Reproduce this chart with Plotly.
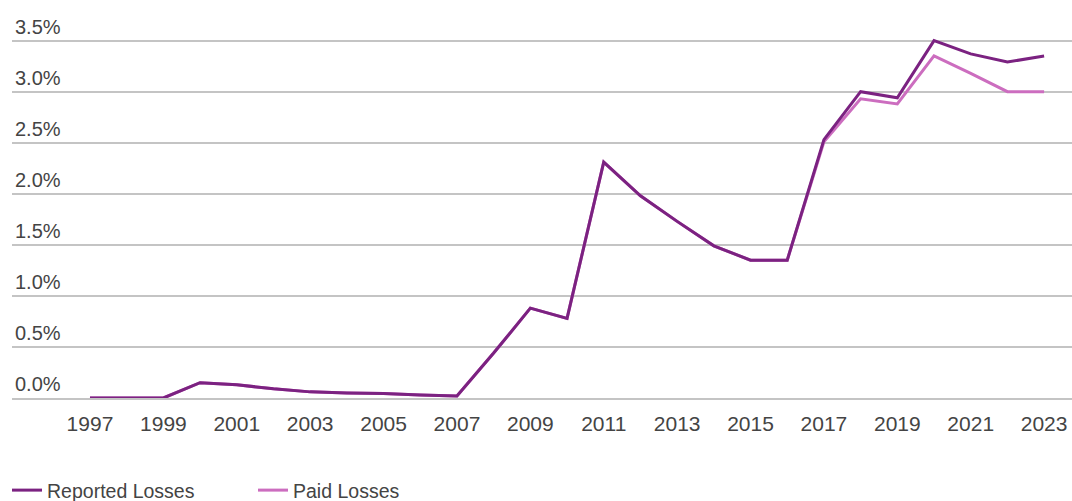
import plotly.graph_objects as go

# Loss ratios by year (in percent)
years = list(range(1997, 2024))
reported_losses = [0.00, 0.00, 0.00, 0.15, 0.13, 0.09, 0.06, 0.05, 0.045, 0.03, 0.02,
                   0.44, 0.88, 0.78, 2.31, 1.98, 1.73, 1.49, 1.35, 1.35,
                   2.53, 3.00, 2.94, 3.50, 3.37, 3.29, 3.35]
paid_losses = [0.00, 0.00, 0.00, 0.15, 0.13, 0.09, 0.06, 0.05, 0.045, 0.03, 0.02,
               0.44, 0.88, 0.78, 2.31, 1.98, 1.73, 1.49, 1.35, 1.35,
               2.51, 2.93, 2.88, 3.35, 3.18, 3.00, 3.00]
x_tick_years = list(range(1997, 2024, 2))
y_tick_values = [0.0, 0.5, 1.0, 1.5, 2.0, 2.5, 3.0, 3.5]

REPORTED_COLOR = "#7B2281"
PAID_COLOR = "#CC6DBF"
GRID_COLOR = "#C4C4C4"
TEXT_COLOR = "#444444"
FONT = "Liberation Sans, Arial, sans-serif"

fig = go.Figure()
fig.add_trace(go.Scatter(
    x=years, y=paid_losses, mode="lines", name="Paid Losses",
    line=dict(color=PAID_COLOR, width=3),
))
fig.add_trace(go.Scatter(
    x=years, y=reported_losses, mode="lines", name="Reported Losses",
    line=dict(color=REPORTED_COLOR, width=3),
))

fig.update_layout(
    width=1072, height=501,
    margin=dict(l=12, r=0, t=10, b=103, autoexpand=False),
    paper_bgcolor="white", plot_bgcolor="white",
    font=dict(family=FONT, size=20, color=TEXT_COLOR),
    showlegend=True,
    legend=dict(
        orientation="h", traceorder="reversed",
        x=-0.0047, xanchor="left",
        yref="container", y=0.06, yanchor="top",
        font=dict(size=19.5, color=TEXT_COLOR),
        entrywidth=201, entrywidthmode="pixels",
        itemwidth=30,
    ),
    xaxis=dict(
        range=[1994.875, 2023.76],
        tickmode="array", tickvals=x_tick_years,
        ticktext=[str(y) for y in x_tick_years],
        showgrid=False, zeroline=False,
        showline=True, linecolor=GRID_COLOR, linewidth=2,
        ticks="outside", ticklen=6, tickcolor="rgba(0,0,0,0)",
        tickfont=dict(size=21, color=TEXT_COLOR),
    ),
    yaxis=dict(
        range=[0, 3.8],
        tickmode="array", tickvals=y_tick_values,
        ticktext=[f"{v:.1f}%" for v in y_tick_values],
        ticklabelposition="inside top",
        showgrid=True, gridcolor=GRID_COLOR, gridwidth=2,
        zeroline=False, showline=False,
        tickfont=dict(size=20, color=TEXT_COLOR),
    ),
)

fig.write_html("out.html")
